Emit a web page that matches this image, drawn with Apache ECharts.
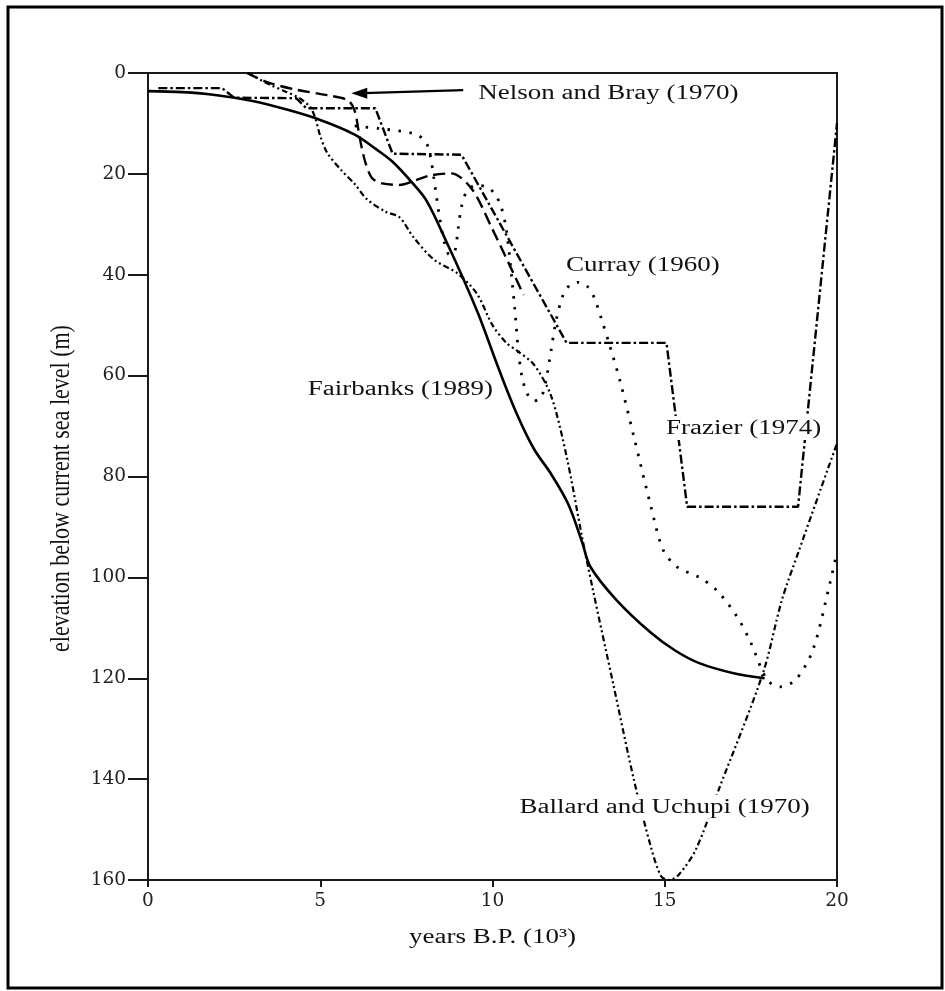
<!DOCTYPE html>
<html><head><meta charset="utf-8">
<script src="https://cdn.jsdelivr.net/npm/echarts@6/dist/echarts.min.js"></script>
<style>html,body{margin:0;padding:0;background:#fff}#c{width:945px;height:991px}</style>
</head><body><div id="c"></div>
<script>
// years B.P. (10^3) vs elevation below current sea level (m)
const fairbanks = [[0,3.6],[1,3.8],[2,4.4],[3,5.5],[4,7.2],[5,9.3],[6,12.2],[6.6,15],[7.1,17.6],[7.7,22],[8.1,25.5],[8.7,34],[9.1,40],[9.6,48],[10.2,59],[10.7,67.5],[11.2,74.5],[11.7,79.5],[12.2,85.5],[12.6,93],[12.85,98],[13.6,104.5],[14.6,111],[15.3,114.5],[16,117],[17,119],[17.9,120]];
const curray = [[6.0,10.5],[6.7,11],[7.7,12],[8.05,13.5],[8.2,16.6],[8.3,21],[8.45,28],[8.6,33.5],[8.75,36],[8.9,35.5],[9.0,31],[9.1,26.5],[9.25,23.5],[9.5,22.3],[9.8,22.5],[10.05,23.8],[10.25,26.5],[10.4,31],[10.55,40],[10.65,47],[10.75,55],[10.85,60],[11.0,63.5],[11.2,65],[11.4,64.5],[11.55,61],[11.7,55],[11.85,49],[12.05,44],[12.25,42],[12.5,41.5],[12.75,42.3],[12.95,44.5],[13.15,48.5],[13.4,54],[13.7,61],[14.1,72],[14.6,86],[14.95,94.5],[15.35,97.9],[16.0,100],[16.5,102.5],[17.1,107.8],[17.5,113],[17.97,120.3],[18.35,121.7],[18.8,120.3],[19.3,114.4],[19.8,101],[20,95]];
const nelsonBray = [[2.87,0],[3.5,1.9],[4.3,3.3],[5.2,4.4],[5.8,5.4],[6.0,7.5],[6.15,13],[6.3,17.5],[6.5,20.8],[6.8,21.9],[7.3,22.2],[7.8,21.2],[8.2,20.3],[8.8,19.9],[9.4,23],[10.0,31],[10.6,39.6],[10.9,44]];
const frazier = [[0.3,3],[2.15,3],[2.5,4.9],[4.3,5],[4.6,7],[6.6,7],[7.1,16],[9.1,16.2],[12.15,53.5],[15.05,53.5],[15.65,86],[18.87,86],[20,10]];
const ballardUchupi = [[2.9,0],[3.5,2.2],[4.0,3.7],[4.4,5],[4.7,6.7],[4.85,8.8],[5.0,12.5],[5.2,15.8],[5.6,19.2],[6.0,22],[6.35,25],[6.9,27.5],[7.3,28.6],[7.7,32.5],[8.3,37],[9.0,39.8],[9.55,43.8],[10.0,50],[10.4,53.5],[10.7,55],[11.2,57.8],[11.7,64],[12.15,76],[12.6,92],[12.9,102],[13.5,121],[14.1,140],[14.6,153.5],[14.9,159.3],[15.15,160],[15.4,159],[15.9,154],[16.6,141.5],[17.85,119],[18.4,104.5],[18.9,94.6],[20,73.4]];

const xTitle = 'years B.P. (10³)';
const yTitle = 'elevation below current sea level (m)';
const annotations = [
  {text:'Nelson and Bray (1970)', at:[9.55,3.96]},
  {text:'Curray (1960)', at:[12.1,38.1]},
  {text:'Fairbanks (1989)', at:[4.6,62.8]},
  {text:'Frazier (1974)', at:[15.0,70.4]},
  {text:'Ballard and Uchupi (1970)', at:[10.75,145.5]}
];
const arrowTip = [5.9,4.0], arrowTail = [9.15,3.4];

const chart = echarts.init(document.getElementById('c'), null, {renderer:'canvas'});
const axisColor = '#1a1a1a';
function lineSeries(name, data, width, type, smooth) {
  return {name, type:'line', data, showSymbol:false, symbol:'none', animation:false,
    smooth: smooth, clip:true,
    lineStyle:{color:'#000', width, type}};
}
chart.setOption({
  backgroundColor:'#fff',
  animation:false,
  grid:{left:148, right:108, top:73, bottom:111, show:true, borderColor:axisColor, borderWidth:2, backgroundColor:'transparent'},
  xAxis:{type:'value', min:0, max:20, interval:5,
    axisLine:{show:true, onZero:false, lineStyle:{color:axisColor, width:2}},
    axisTick:{show:true, length:7, lineStyle:{color:axisColor, width:2}},
    axisLabel:{color:'#222', fontFamily:'DejaVu Serif', fontSize:18.5, margin:12},
    splitLine:{show:false}},
  yAxis:{type:'value', inverse:true, min:0, max:160, interval:20,
    axisLine:{show:true, onZero:false, lineStyle:{color:axisColor, width:2}},
    axisTick:{show:true, length:20, lineStyle:{color:axisColor, width:2}},
    axisLabel:{color:'#222', fontFamily:'DejaVu Serif', fontSize:18.5, margin:22},
    splitLine:{show:false}},
  series:[
    lineSeries('Fairbanks (1989)', fairbanks, 2.6, 'solid', 0.35),
    lineSeries('Curray (1960)', curray, 2.8, [2.5,8.5], 0.3),
    lineSeries('Nelson and Bray (1970)', nelsonBray, 2.4, [12,6], 0.3),
    lineSeries('Frazier (1974)', frazier, 2.4, [9,3,2.5,3], false),
    lineSeries('Ballard and Uchupi (1970)', ballardUchupi, 2.2, [6,3,2,3,2,3], 0.3)
  ]
});

const px = p => chart.convertToPixel({xAxisIndex:0, yAxisIndex:0}, p);
const g = [];
g.push({type:'rect', shape:{x:8, y:7, width:934, height:981}, style:{fill:'none', stroke:'#000', lineWidth:3}, z:100});
annotations.forEach(a => {
  const p = px(a.at);
  g.push({type:'text', x:p[0], y:p[1], scaleX:1.25, z:50,
    style:{text:a.text, x:0, y:0, fill:'#111', font:'21.6px "Liberation Serif"', textAlign:'left', textVerticalAlign:'middle',
      backgroundColor:'#fff', padding:[1,1]}});
});
const tip = px(arrowTip), tail = px(arrowTail);
g.push({type:'line', shape:{x1:tip[0]+12, y1:tip[1], x2:tail[0], y2:tail[1]}, style:{stroke:'#000', lineWidth:2.2}, z:60});
g.push({type:'polygon', shape:{points:[[tip[0],tip[1]],[tip[0]+16,tip[1]-5.5],[tip[0]+16,tip[1]+5.5]]}, style:{fill:'#000'}, z:60});
const pc = px([10,80]);
const p0 = px([0,160]);
g.push({type:'text', x:62, y:pc[1]+12, rotation:Math.PI/2, scaleY:1.25, z:50,
  style:{text:yTitle, x:0, y:0, fill:'#111', font:'22px "Liberation Serif"', textAlign:'center', textVerticalAlign:'middle'}});
g.push({type:'text', x:pc[0], y:p0[1]+57, scaleX:1.25, z:50,
  style:{text:xTitle, x:0, y:0, fill:'#111', font:'21.6px "Liberation Serif"', textAlign:'center', textVerticalAlign:'middle'}});
chart.setOption({graphic:g});
</script></body></html>
